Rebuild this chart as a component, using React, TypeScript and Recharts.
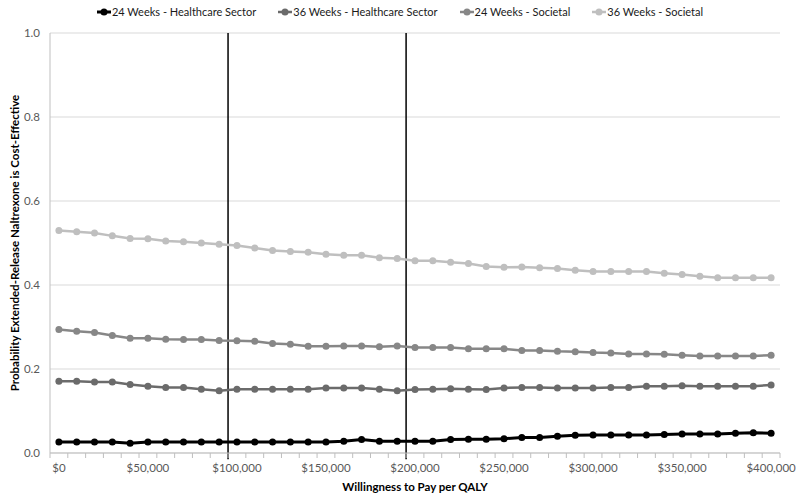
import { LineChart, Line, XAxis, YAxis, CartesianGrid, Legend, ReferenceLine } from 'recharts';

// willingness to pay per QALY ($), one point per $10,000
const wtp = [
  0, 10000, 20000, 30000, 40000, 50000, 60000, 70000, 80000, 90000,
  100000, 110000, 120000, 130000, 140000, 150000, 160000, 170000, 180000, 190000,
  200000, 210000, 220000, 230000, 240000, 250000, 260000, 270000, 280000, 290000,
  300000, 310000, 320000, 330000, 340000, 350000, 360000, 370000, 380000, 390000,
  400000,
];

const weeks24Healthcare = [
  0.026, 0.026, 0.026, 0.026, 0.023, 0.026, 0.026, 0.026, 0.026, 0.026,
  0.026, 0.026, 0.026, 0.026, 0.026, 0.026, 0.028, 0.032, 0.028, 0.028,
  0.028, 0.028, 0.032, 0.033, 0.033, 0.034, 0.037, 0.037, 0.040, 0.042,
  0.043, 0.043, 0.043, 0.043, 0.044, 0.045, 0.045, 0.045, 0.047, 0.048,
  0.047,
];
const weeks36Healthcare = [
  0.171, 0.171, 0.169, 0.169, 0.163, 0.159, 0.156, 0.156, 0.152, 0.148,
  0.152, 0.152, 0.152, 0.152, 0.152, 0.155, 0.155, 0.155, 0.152, 0.148,
  0.151, 0.152, 0.153, 0.152, 0.151, 0.155, 0.156, 0.156, 0.155, 0.155,
  0.155, 0.156, 0.156, 0.159, 0.159, 0.160, 0.159, 0.159, 0.159, 0.159,
  0.162,
];
const weeks24Societal = [
  0.294, 0.290, 0.287, 0.280, 0.273, 0.273, 0.271, 0.270, 0.270, 0.268,
  0.267, 0.266, 0.261, 0.259, 0.254, 0.254, 0.255, 0.255, 0.253, 0.255,
  0.251, 0.251, 0.251, 0.248, 0.248, 0.248, 0.244, 0.244, 0.242, 0.241,
  0.239, 0.238, 0.236, 0.236, 0.235, 0.233, 0.231, 0.231, 0.231, 0.231,
  0.233,
];
const weeks36Societal = [
  0.530, 0.527, 0.524, 0.517, 0.511, 0.510, 0.505, 0.503, 0.500, 0.497,
  0.494, 0.488, 0.482, 0.480, 0.478, 0.473, 0.471, 0.471, 0.465, 0.463,
  0.458, 0.458, 0.454, 0.451, 0.444, 0.442, 0.443, 0.441, 0.439, 0.435,
  0.432, 0.432, 0.432, 0.432, 0.428, 0.425, 0.421, 0.417, 0.417, 0.417,
  0.417,
];

const xTickLabels = [0, 50000, 100000, 150000, 200000, 250000, 300000, 350000, 400000];
const yTicks = [0, 0.2, 0.4, 0.6, 0.8, 1.0];
// vertical threshold lines, drawn on category boundaries
const thresholds = [95000, 195000];

const series = [
  { key: 'hc24', name: '24 Weeks - Healthcare Sector', color: '#000000', width: 3, values: weeks24Healthcare },
  { key: 'hc36', name: '36 Weeks - Healthcare Sector', color: '#6b6b6b', width: 2.5, values: weeks36Healthcare },
  { key: 'soc24', name: '24 Weeks - Societal', color: '#878787', width: 2.5, values: weeks24Societal },
  { key: 'soc36', name: '36 Weeks - Societal', color: '#bfbfbf', width: 2.5, values: weeks36Societal },
];

const data = wtp.map((w, i) => {
  const row: Record<string, number> = { wtp: w };
  series.forEach(s => { row[s.key] = s.values[i]; });
  return row;
});

// tick marks sit between categories, labels under every 5th point
const boundaryTicks = [wtp[0] - 5000, ...wtp.map(w => w + 5000)];
const xTicks = [...boundaryTicks, ...xTickLabels].sort((a, b) => a - b);

const FONT = 'Lato, "Liberation Sans", sans-serif';

const fmtMoney = (v: number) => '$' + v.toLocaleString('en-US');

const XTick = (props: any) => {
  const { x, y, payload } = props;
  const v = payload.value as number;
  if (xTickLabels.includes(v)) {
    return (
      <text x={x} y={y + 19} textAnchor="middle" fill="#595959" fontSize={11.5} fontFamily={FONT}>
        {fmtMoney(v)}
      </text>
    );
  }
  return <line x1={x} x2={x} y1={y} y2={y + 5} stroke="#bfbfbf" strokeWidth={1} />;
};

const LegendContent = () => (
  <div style={{ display: 'flex', justifyContent: 'center', gap: 22, fontFamily: FONT, fontSize: 11, color: '#1a1a1a' }}>
    {series.map(s => (
      <div key={s.key} style={{ display: 'flex', alignItems: 'center' }}>
        <svg width={14} height={10} style={{ marginRight: 1 }}>
          <line x1={0} x2={14} y1={5} y2={5} stroke={s.color} strokeWidth={s.width} />
          <circle cx={7} cy={5} r={3.5} fill={s.color} />
        </svg>
        <span>{s.name}</span>
      </div>
    ))}
  </div>
);

export default function App() {
  return (
    <div style={{ position: 'absolute', left: 0, top: 0, width: 800, height: 501, background: '#fff' }}>
      <LineChart width={800} height={501} data={data} margin={{ top: 33, right: 20, left: 0, bottom: 18 }}>
        <CartesianGrid vertical={false} stroke="#d9d9d9" />
        <XAxis
          dataKey="wtp"
          type="number"
          domain={[-5000, 405000]}
          ticks={xTicks}
          interval={0}
          tick={<XTick />}
          tickLine={false}
          tickSize={0}
          tickMargin={0}
          height={30}
          stroke="#bfbfbf"
          label={({ viewBox }: any) => (
            <text
              x={viewBox.x + viewBox.width / 2}
              y={viewBox.y + 38}
              textAnchor="middle"
              fontFamily={FONT}
              fontSize={11.5}
              fontWeight="bold"
              fill="#000"
            >
              Willingness to Pay per QALY
            </text>
          )}
        />
        <YAxis
          type="number"
          domain={[0, 1]}
          ticks={yTicks}
          width={50}
          tickLine={false}
          tickSize={0}
          tickMargin={10}
          stroke="#bfbfbf"
          tick={{ fill: '#595959', fontSize: 11.5, fontFamily: FONT }}
          tickFormatter={(v: number) => v.toFixed(1)}
          label={({ viewBox }: any) => {
            const cx = viewBox.x + 14;
            const cy = viewBox.y + viewBox.height / 2;
            return (
              <text
                x={cx}
                y={cy}
                transform={`rotate(-90, ${cx}, ${cy})`}
                textAnchor="middle"
                dominantBaseline="central"
                fontFamily={FONT}
                fontSize={11.5}
                fontWeight="bold"
                fill="#000"
              >
                Probability Extended-Release Naltrexone is Cost-Effective
              </text>
            );
          }}
        />
        <Legend
          verticalAlign="middle"
          layout="horizontal"
          wrapperStyle={{ top: 5, left: 0, width: 800 }}
          content={<LegendContent />}
        />
        {thresholds.map(t => (
          <ReferenceLine
            key={t}
            segment={[{ x: t, y: -0.015 }, { x: t, y: 1 }]}
            ifOverflow="visible"
            stroke="#000"
            strokeWidth={1.5}
          />
        ))}
        {series.map(s => (
          <Line
            key={s.key}
            dataKey={s.key}
            name={s.name}
            type="linear"
            stroke={s.color}
            strokeWidth={s.width}
            dot={{ r: 3.5, fill: s.color, stroke: 'none' }}
            activeDot={false}
            isAnimationActive={false}
          />
        ))}
      </LineChart>
    </div>
  );
}
